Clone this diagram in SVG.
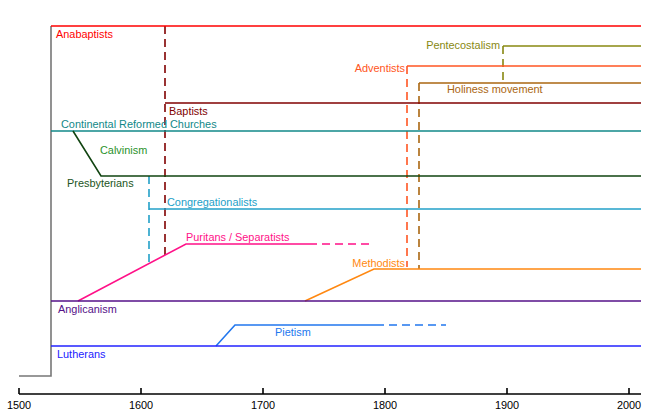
<svg xmlns="http://www.w3.org/2000/svg" width="650" height="416" viewBox="0 0 650 416">
<style>
text{font-family:"Liberation Sans",Arial,sans-serif;font-size:10.9px}
line,polyline{fill:none;stroke-width:1.6}
.d{stroke-dasharray:8,5}
.ax{stroke:#000;stroke-width:1.6}
</style>
<rect width="650" height="416" fill="#fff"/>
<g id="axis">
<line class="ax" x1="19" y1="394" x2="641" y2="394"/>
<line class="ax" x1="19" y1="388" x2="19" y2="394"/>
<line class="ax" x1="141" y1="388" x2="141" y2="394"/>
<line class="ax" x1="263" y1="388" x2="263" y2="394"/>
<line class="ax" x1="385" y1="388" x2="385" y2="394"/>
<line class="ax" x1="507" y1="388" x2="507" y2="394"/>
<line class="ax" x1="629" y1="388" x2="629" y2="394"/>
<g text-anchor="middle" fill="#000">
<text x="19" y="409">1500</text>
<text x="141" y="409">1600</text>
<text x="263" y="409">1700</text>
<text x="385" y="409">1800</text>
<text x="507" y="409">1900</text>
<text x="629" y="409">2000</text>
</g>
</g>
<g id="connectors">
<polyline points="19,376 51,376 51,26" stroke="#777"/>
<line class="d" x1="165" y1="26" x2="165" y2="256" stroke="#800000"/>
<line class="d" x1="149" y1="176" x2="149" y2="262" stroke="#22a0c8"/>
<line class="d" x1="407" y1="66" x2="407" y2="267" stroke="#ff5522"/>
<line class="d" x1="419" y1="83" x2="419" y2="269" stroke="#aa6611"/>
<line class="d" x1="503" y1="46" x2="503" y2="83" stroke="#888811"/>
</g>
<g id="anabaptists">
<line x1="51" y1="26" x2="641" y2="26" stroke="#ff0000"/>
<text x="56" y="38" fill="#ff0000">Anabaptists</text>
</g>
<g id="pentecostalism">
<line x1="503" y1="46" x2="641" y2="46" stroke="#888811"/>
<text x="500" y="49" fill="#888811" text-anchor="end">Pentecostalism</text>
</g>
<g id="adventists">
<line x1="407" y1="66" x2="641" y2="66" stroke="#ff5522"/>
<text x="405" y="72" fill="#ff5522" text-anchor="end">Adventists</text>
</g>
<g id="holiness">
<line x1="419" y1="83" x2="641" y2="83" stroke="#aa6611"/>
<text x="447" y="93" fill="#aa6611">Holiness movement</text>
</g>
<g id="baptists">
<line x1="165" y1="103" x2="641" y2="103" stroke="#800000"/>
<text x="169" y="115" fill="#800000">Baptists</text>
</g>
<g id="reformed">
<line x1="51" y1="131" x2="641" y2="131" stroke="#118888"/>
<text x="61" y="128" fill="#118888">Continental Reformed Churches</text>
</g>
<g id="presbyterians">
<polyline points="73,131 101,176 641,176" stroke="#114411"/>
<text x="100" y="154" fill="#2a922a">Calvinism</text>
<text x="67" y="187" fill="#225522">Presbyterians</text>
</g>
<g id="congregationalists">
<line x1="149" y1="209" x2="641" y2="209" stroke="#22a0c8"/>
<text x="167" y="206" fill="#22a0c8">Congregationalists</text>
</g>
<g id="puritans">
<polyline points="78,301 186,244 317,244" stroke="#ff1188"/>
<line class="d" x1="322" y1="244" x2="370" y2="244" stroke="#ff1188"/>
<text x="186" y="241" fill="#ff1188">Puritans / Separatists</text>
</g>
<g id="methodists">
<polyline points="305,301 374,269 641,269" stroke="#ff8811"/>
<text x="405" y="267" fill="#ff8811" text-anchor="end">Methodists</text>
</g>
<g id="anglicanism">
<line x1="51" y1="301" x2="641" y2="301" stroke="#551188"/>
<text x="58" y="313" fill="#551188">Anglicanism</text>
</g>
<g id="pietism">
<polyline points="216,346 235,325 384,325" stroke="#2277ee"/>
<line class="d" x1="389" y1="325" x2="446" y2="325" stroke="#2277ee"/>
<text x="275" y="336" fill="#2277ee">Pietism</text>
</g>
<g id="lutherans">
<line x1="51" y1="346" x2="641" y2="346" stroke="#2222ff"/>
<text x="57" y="358" fill="#2222ff">Lutherans</text>
</g>
</svg>
